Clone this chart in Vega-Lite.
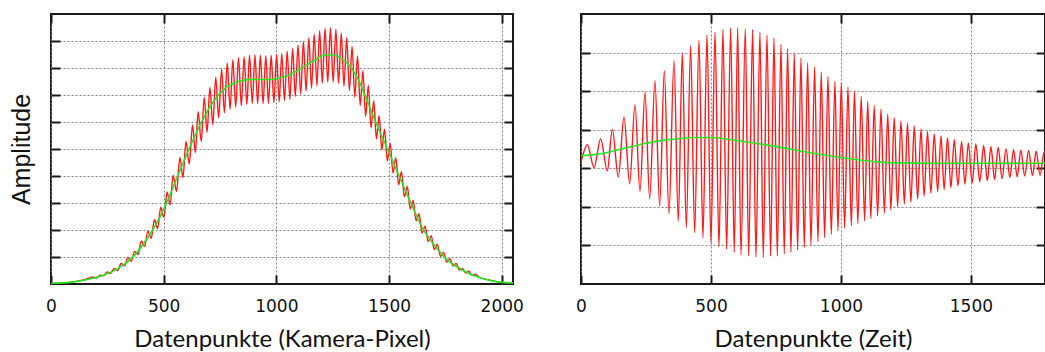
{
  "$schema": "https://vega.github.io/schema/vega-lite/v6.json",
  "background": "white",
  "padding": {"left": 8, "top": 12, "right": 0, "bottom": 0},
  "bounds": "flush",
  "spacing": 68,
  "config": {
    "view": {"stroke": "#1a1a1a", "strokeWidth": 2},
    "axis": {
      "domain": false,
      "tickSize": -9,
      "tickWidth": 2,
      "tickColor": "#1a1a1a",
      "gridColor": "#808080",
      "gridDash": [2, 2],
      "gridWidth": 1,
      "labelFont": "DejaVu Sans",
      "labelFontSize": 17,
      "labelColor": "#111111",
      "labelPadding": 23,
      "labelFlush": false,
      "titleFontWeight": "normal",
      "titleColor": "#111111",
      "minExtent": 0
    }
  },
  "datasets": {
    "leftRed": [
      {"x": 0, "y": 0.02}, {"x": 100, "y": 0.08}, {"x": 150, "y": 0.16},
      {"x": 187, "y": 0.26}, {"x": 202.5, "y": 0.22}, {"x": 218, "y": 0.33}, {"x": 233.5, "y": 0.30},
      {"x": 249, "y": 0.45}, {"x": 264.5, "y": 0.39}, {"x": 280, "y": 0.58}, {"x": 295.5, "y": 0.49},
      {"x": 311, "y": 0.76}, {"x": 326, "y": 0.67}, {"x": 341, "y": 0.98}, {"x": 356, "y": 0.84},
      {"x": 371, "y": 1.21}, {"x": 386, "y": 1.09}, {"x": 401, "y": 1.59}, {"x": 415.5, "y": 1.39},
      {"x": 430, "y": 1.96}, {"x": 444.5, "y": 1.69}, {"x": 459, "y": 2.38}, {"x": 473, "y": 2.05},
      {"x": 487, "y": 2.84}, {"x": 501, "y": 2.47}, {"x": 515, "y": 3.41}, {"x": 528.5, "y": 2.93},
      {"x": 542, "y": 4.03}, {"x": 557, "y": 3.43}, {"x": 572, "y": 4.69}, {"x": 585.5, "y": 3.94},
      {"x": 599, "y": 5.28}, {"x": 613.5, "y": 4.44}, {"x": 628, "y": 5.89}, {"x": 640.5, "y": 4.87},
      {"x": 653, "y": 6.38}, {"x": 666.5, "y": 5.28}, {"x": 680, "y": 6.91}, {"x": 692.5, "y": 5.62},
      {"x": 705, "y": 7.28}, {"x": 718, "y": 5.90}, {"x": 731, "y": 7.66}, {"x": 744, "y": 6.16},
      {"x": 757, "y": 7.96}, {"x": 769.5, "y": 6.34}, {"x": 782, "y": 8.19}, {"x": 794.5, "y": 6.47},
      {"x": 807, "y": 8.31}, {"x": 819.5, "y": 6.55}, {"x": 832, "y": 8.38}, {"x": 844.5, "y": 6.60},
      {"x": 857, "y": 8.42}, {"x": 869, "y": 6.65}, {"x": 881, "y": 8.47}, {"x": 893, "y": 6.68},
      {"x": 905, "y": 8.48}, {"x": 917, "y": 6.68}, {"x": 929, "y": 8.47}, {"x": 941, "y": 6.68},
      {"x": 953, "y": 8.46}, {"x": 965, "y": 6.69}, {"x": 977, "y": 8.47}, {"x": 989, "y": 6.72},
      {"x": 1001, "y": 8.50}, {"x": 1012.5, "y": 6.75}, {"x": 1024, "y": 8.54}, {"x": 1036, "y": 6.79},
      {"x": 1048, "y": 8.62}, {"x": 1060, "y": 6.84}, {"x": 1072, "y": 8.72}, {"x": 1084, "y": 6.95},
      {"x": 1096, "y": 8.85}, {"x": 1108, "y": 7.04}, {"x": 1120, "y": 8.98}, {"x": 1132, "y": 7.15},
      {"x": 1144, "y": 9.12}, {"x": 1156, "y": 7.25}, {"x": 1168, "y": 9.25}, {"x": 1180, "y": 7.34},
      {"x": 1192, "y": 9.38}, {"x": 1204, "y": 7.43}, {"x": 1216, "y": 9.47}, {"x": 1228, "y": 7.48},
      {"x": 1240, "y": 9.49}, {"x": 1252, "y": 7.47}, {"x": 1264, "y": 9.44}, {"x": 1276, "y": 7.43},
      {"x": 1288, "y": 9.30}, {"x": 1300, "y": 7.32}, {"x": 1312, "y": 9.12}, {"x": 1324, "y": 7.17},
      {"x": 1336, "y": 8.80}, {"x": 1348, "y": 6.92}, {"x": 1360, "y": 8.45}, {"x": 1372, "y": 6.61},
      {"x": 1384, "y": 7.90}, {"x": 1396, "y": 6.21}, {"x": 1408, "y": 7.35}, {"x": 1420, "y": 5.79},
      {"x": 1432, "y": 6.79}, {"x": 1444, "y": 5.37}, {"x": 1456, "y": 6.23}, {"x": 1468, "y": 4.96},
      {"x": 1480, "y": 5.73}, {"x": 1492.5, "y": 4.55}, {"x": 1505, "y": 5.21}, {"x": 1517.5, "y": 4.11},
      {"x": 1530, "y": 4.68}, {"x": 1542.5, "y": 3.68}, {"x": 1555, "y": 4.16}, {"x": 1568, "y": 3.23},
      {"x": 1581, "y": 3.61}, {"x": 1594, "y": 2.78}, {"x": 1607, "y": 3.09}, {"x": 1620, "y": 2.34},
      {"x": 1633, "y": 2.60}, {"x": 1646.5, "y": 1.89}, {"x": 1660, "y": 2.14}, {"x": 1673.5, "y": 1.57},
      {"x": 1687, "y": 1.79}, {"x": 1700.5, "y": 1.28}, {"x": 1714, "y": 1.47}, {"x": 1728, "y": 1.03},
      {"x": 1742, "y": 1.17}, {"x": 1756, "y": 0.81}, {"x": 1770, "y": 0.94}, {"x": 1784, "y": 0.67},
      {"x": 1798, "y": 0.76}, {"x": 1812, "y": 0.52}, {"x": 1826, "y": 0.58}, {"x": 1840, "y": 0.41},
      {"x": 1854, "y": 0.47}, {"x": 1868, "y": 0.32}, {"x": 1882, "y": 0.36}, {"x": 1900, "y": 0.25},
      {"x": 1950, "y": 0.14}, {"x": 2000, "y": 0.06}, {"x": 2050, "y": 0.04}
    ],
    "leftGreen": [
      {"x": 0, "y": 0.02}, {"x": 100, "y": 0.08}, {"x": 150, "y": 0.15}, {"x": 222, "y": 0.30},
      {"x": 296, "y": 0.57}, {"x": 369, "y": 1.05}, {"x": 443, "y": 1.90}, {"x": 480, "y": 2.42},
      {"x": 510, "y": 2.95}, {"x": 561, "y": 3.98}, {"x": 621, "y": 5.16}, {"x": 680, "y": 6.20},
      {"x": 739, "y": 6.95}, {"x": 780, "y": 7.30}, {"x": 813, "y": 7.44}, {"x": 887, "y": 7.58},
      {"x": 961, "y": 7.57}, {"x": 1020, "y": 7.64}, {"x": 1060, "y": 7.75}, {"x": 1108, "y": 7.98},
      {"x": 1167, "y": 8.27}, {"x": 1212, "y": 8.47}, {"x": 1241, "y": 8.49}, {"x": 1271, "y": 8.44},
      {"x": 1315, "y": 8.18}, {"x": 1360, "y": 7.63}, {"x": 1404, "y": 6.76}, {"x": 1448, "y": 5.85},
      {"x": 1493, "y": 5.00}, {"x": 1545, "y": 4.00}, {"x": 1597, "y": 3.00}, {"x": 1650, "y": 2.05},
      {"x": 1700, "y": 1.45}, {"x": 1751, "y": 0.95}, {"x": 1825, "y": 0.52}, {"x": 1914, "y": 0.20},
      {"x": 2000, "y": 0.06}, {"x": 2050, "y": 0.04}
    ],
    "rightRed": [
      {"x": 0, "y": -0.35}, {"x": 24.4, "y": 0.11}, {"x": 50, "y": -0.48}, {"x": 75.6, "y": 0.26},
      {"x": 101.3, "y": -0.57}, {"x": 120.5, "y": 0.51}, {"x": 143.6, "y": -0.73}, {"x": 165.4, "y": 0.83},
      {"x": 187.2, "y": -0.90}, {"x": 207.7, "y": 1.15}, {"x": 226.9, "y": -1.10}, {"x": 246.2, "y": 1.47},
      {"x": 264.1, "y": -1.29}, {"x": 284.6, "y": 1.77}, {"x": 302.6, "y": -1.48}, {"x": 320.5, "y": 2.03},
      {"x": 338.4, "y": -1.68}, {"x": 357.7, "y": 2.29}, {"x": 374.3, "y": -1.87}, {"x": 389.7, "y": 2.49},
      {"x": 405.1, "y": -2.04}, {"x": 421.8, "y": 2.68}, {"x": 437.2, "y": -2.17}, {"x": 453.8, "y": 2.82},
      {"x": 469.2, "y": -2.30}, {"x": 484.6, "y": 2.95}, {"x": 500, "y": -2.43}, {"x": 515.4, "y": 3.03},
      {"x": 530.7, "y": -2.53}, {"x": 546.1, "y": 3.10}, {"x": 560.2, "y": -2.60}, {"x": 575.6, "y": 3.14},
      {"x": 589.7, "y": -2.68}, {"x": 602.6, "y": 3.14}, {"x": 615.4, "y": -2.75}, {"x": 632, "y": 3.12},
      {"x": 644.9, "y": -2.77}, {"x": 660.2, "y": 3.10}, {"x": 673, "y": -2.80}, {"x": 688.4, "y": 3.03},
      {"x": 701.3, "y": -2.81}, {"x": 715.4, "y": 2.95}, {"x": 729.5, "y": -2.78}, {"x": 742.3, "y": 2.88},
      {"x": 755.1, "y": -2.77}, {"x": 769.2, "y": 2.71}, {"x": 782, "y": -2.72}, {"x": 794.8, "y": 2.60},
      {"x": 807.7, "y": -2.68}, {"x": 820.5, "y": 2.47}, {"x": 833.3, "y": -2.62}, {"x": 846.1, "y": 2.36},
      {"x": 859, "y": -2.56}, {"x": 871.8, "y": 2.23}, {"x": 884.6, "y": -2.49}, {"x": 898.7, "y": 2.12},
      {"x": 911.5, "y": -2.40}, {"x": 924.3, "y": 1.99}, {"x": 937.2, "y": -2.30}, {"x": 950, "y": 1.88},
      {"x": 962.8, "y": -2.21}, {"x": 976.9, "y": 1.75}, {"x": 988.4, "y": -2.12}, {"x": 1001.3, "y": 1.72},
      {"x": 1014, "y": -2.05}, {"x": 1027, "y": 1.60}, {"x": 1040, "y": -1.99}, {"x": 1052, "y": 1.49},
      {"x": 1065, "y": -1.93}, {"x": 1078, "y": 1.37}, {"x": 1091, "y": -1.86}, {"x": 1103, "y": 1.24},
      {"x": 1115, "y": -1.80}, {"x": 1128, "y": 1.13}, {"x": 1141, "y": -1.73}, {"x": 1154, "y": 1.03},
      {"x": 1167, "y": -1.66}, {"x": 1180, "y": 0.91}, {"x": 1192, "y": -1.58}, {"x": 1205, "y": 0.81},
      {"x": 1218, "y": -1.49}, {"x": 1231, "y": 0.73}, {"x": 1244, "y": -1.43}, {"x": 1256, "y": 0.67},
      {"x": 1269, "y": -1.38}, {"x": 1282, "y": 0.60}, {"x": 1295, "y": -1.30}, {"x": 1308, "y": 0.52},
      {"x": 1320, "y": -1.22}, {"x": 1333, "y": 0.45}, {"x": 1346, "y": -1.15}, {"x": 1359, "y": 0.39},
      {"x": 1372, "y": -1.10}, {"x": 1385, "y": 0.34}, {"x": 1397, "y": -1.05}, {"x": 1410, "y": 0.29},
      {"x": 1423, "y": -1.00}, {"x": 1436, "y": 0.24}, {"x": 1450, "y": -0.95}, {"x": 1464, "y": 0.19},
      {"x": 1477, "y": -0.91}, {"x": 1490, "y": 0.16}, {"x": 1505, "y": -0.88}, {"x": 1519, "y": 0.13},
      {"x": 1534, "y": -0.85}, {"x": 1549, "y": 0.09}, {"x": 1563, "y": -0.82}, {"x": 1577, "y": 0.06},
      {"x": 1591, "y": -0.79}, {"x": 1605, "y": 0.04}, {"x": 1620, "y": -0.77}, {"x": 1635, "y": 0.01},
      {"x": 1650, "y": -0.74}, {"x": 1664, "y": -0.01}, {"x": 1678, "y": -0.72}, {"x": 1692, "y": -0.03},
      {"x": 1707, "y": -0.70}, {"x": 1722, "y": -0.04}, {"x": 1737, "y": -0.69}, {"x": 1751, "y": -0.06},
      {"x": 1766, "y": -0.68}, {"x": 1782, "y": -0.07}, {"x": 1797, "y": -0.67}
    ],
    "rightGreen": [
      {"x": 0, "y": -0.17}, {"x": 60, "y": -0.14}, {"x": 120, "y": -0.06}, {"x": 180, "y": 0.04},
      {"x": 250, "y": 0.15}, {"x": 320, "y": 0.23}, {"x": 380, "y": 0.27}, {"x": 440, "y": 0.30},
      {"x": 505, "y": 0.30}, {"x": 560, "y": 0.26}, {"x": 610, "y": 0.21}, {"x": 700, "y": 0.12},
      {"x": 780, "y": 0.03}, {"x": 850, "y": -0.06}, {"x": 930, "y": -0.15}, {"x": 1000, "y": -0.22},
      {"x": 1080, "y": -0.29}, {"x": 1150, "y": -0.34}, {"x": 1220, "y": -0.36}, {"x": 1350, "y": -0.37},
      {"x": 1797, "y": -0.37}
    ]
  },
  "hconcat": [
    {
      "width": 462,
      "height": 270,
      "layer": [
        {
          "data": {"name": "leftRed"},
          "mark": {"type": "line", "color": "#ff1a1a", "strokeWidth": 1.4, "interpolate": "monotone", "clip": true},
          "encoding": {
            "x": {"field": "x", "type": "quantitative", "scale": {"domain": [0, 2050], "nice": false, "zero": false},
              "axis": {"values": [0, 500, 1000, 1500, 2000], "format": "d", "labelFont": "DejaVu Sans", "labelFontSize": 17, "title": "Datenpunkte (Kamera-Pixel)", "titleFont": "Lato", "titleFontSize": 24, "titlePadding": 13, "grid": true}},
            "y": {"field": "y", "type": "quantitative", "scale": {"domain": [0, 10], "nice": false},
              "axis": {"values": [1, 2, 3, 4, 5, 6, 7, 8, 9], "labels": false, "title": "Amplitude", "titleFont": "Liberation Sans", "titleFontSize": 25, "titlePadding": 16, "grid": true}}
          }
        },
        {
          "data": {"name": "leftGreen"},
          "mark": {"type": "line", "color": "#22e622", "strokeWidth": 1.6, "interpolate": "monotone", "clip": true},
          "encoding": {
            "x": {"field": "x", "type": "quantitative",
              "axis": {"orient": "top", "values": [0, 500, 1000, 1500, 2000], "labels": false, "title": null, "grid": false, "maxExtent": 0}},
            "y": {"field": "y", "type": "quantitative",
              "axis": {"orient": "right", "values": [1, 2, 3, 4, 5, 6, 7, 8, 9], "labels": false, "title": null, "grid": false, "maxExtent": 0}}
          }
        }
      ],
      "resolve": {"axis": {"x": "independent", "y": "independent"}}
    },
    {
      "width": 464,
      "height": 270,
      "layer": [
        {
          "data": {"name": "rightRed"},
          "mark": {"type": "line", "color": "#ff1a1a", "strokeWidth": 1.4, "interpolate": "monotone", "clip": true},
          "encoding": {
            "x": {"field": "x", "type": "quantitative", "scale": {"domain": [0, 1785], "nice": false, "zero": false},
              "axis": {"values": [0, 500, 1000, 1500], "format": "d", "labelFont": "DejaVu Sans", "labelFontSize": 17, "title": "Datenpunkte (Zeit)", "titleFont": "Lato", "titleFontSize": 24, "titlePadding": 13, "grid": true}},
            "y": {"field": "y", "type": "quantitative", "scale": {"domain": [-3.5, 3.5], "nice": false},
              "axis": {"values": [-2.5, -1.5, -0.5, 0.5, 1.5, 2.5], "labels": false, "title": null, "grid": true}}
          }
        },
        {
          "data": {"name": "rightGreen"},
          "mark": {"type": "line", "color": "#22e622", "strokeWidth": 1.6, "interpolate": "monotone", "clip": true},
          "encoding": {
            "x": {"field": "x", "type": "quantitative",
              "axis": {"orient": "top", "values": [0, 500, 1000, 1500], "labels": false, "title": null, "grid": false, "maxExtent": 0}},
            "y": {"field": "y", "type": "quantitative",
              "axis": {"orient": "right", "values": [-2.5, -1.5, -0.5, 0.5, 1.5, 2.5], "labels": false, "title": null, "grid": false, "maxExtent": 0}}
          }
        }
      ],
      "resolve": {"axis": {"x": "independent", "y": "independent"}}
    }
  ]
}
